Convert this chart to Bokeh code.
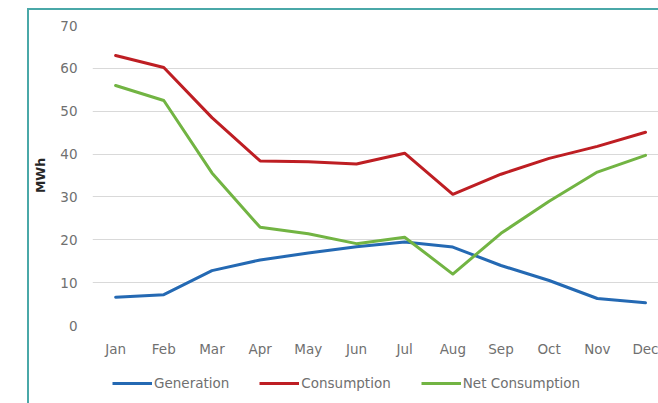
from bokeh.plotting import figure
from bokeh.models import Legend, LegendItem, FixedTicker, InlineStyleSheet
from bokeh.layouts import column
from bokeh.embed import file_html
from bokeh.resources import INLINE

months = ["Jan", "Feb", "Mar", "Apr", "May", "Jun", "Jul", "Aug", "Sep", "Oct", "Nov", "Dec"]
generation = [6.6, 7.2, 12.8, 15.3, 16.9, 18.4, 19.5, 18.3, 14.0, 10.5, 6.3, 5.3]
consumption = [63.0, 60.2, 48.5, 38.4, 38.2, 37.7, 40.2, 30.6, 35.3, 39.0, 41.8, 45.1]
net_consumption = [56.0, 52.5, 35.6, 22.9, 21.4, 19.1, 20.6, 12.0, 21.5, 29.0, 35.8, 39.7]
y_ticks = [0, 10, 20, 30, 40, 50, 60, 70]

xs = list(range(len(months)))
FONT = "DejaVu Sans"
TXT = "#707070"
FS = "13.5px"

p = figure(width=658, height=365, output_backend="svg", toolbar_location=None,
           x_range=(-0.48, 11.27), y_range=(0, 70),
           min_border_left=92, min_border_right=0, min_border_top=25, min_border_bottom=40)
p.outline_line_color = None
p.background_fill_color = "white"
p.border_fill_color = "white"

p.xgrid.visible = False
p.ygrid.grid_line_color = "#D9D9D9"
p.ygrid.grid_line_width = 1
p.ygrid.ticker = FixedTicker(ticks=y_ticks)

p.yaxis.ticker = FixedTicker(ticks=y_ticks)
p.yaxis.axis_line_color = None
p.yaxis.major_tick_line_color = None
p.yaxis.minor_tick_line_color = None
p.yaxis.major_label_standoff = 9
p.yaxis.major_label_text_font = FONT
p.yaxis.major_label_text_font_size = FS
p.yaxis.major_label_text_color = TXT
p.yaxis.axis_label = "MWh"
p.yaxis.axis_label_text_font = FONT
p.yaxis.axis_label_text_font_size = "12.5px"
p.yaxis.axis_label_text_font_style = "bold"
p.yaxis.axis_label_text_color = "#262626"
p.yaxis.axis_label_standoff = 9

p.xaxis.ticker = FixedTicker(ticks=xs)
p.xaxis.major_label_overrides = {i: m for i, m in enumerate(months)}
p.xaxis.axis_line_color = None
p.xaxis.major_tick_line_color = None
p.xaxis.minor_tick_line_color = None
p.xaxis.major_label_standoff = 9
p.xaxis.major_label_text_font = FONT
p.xaxis.major_label_text_font_size = FS
p.xaxis.major_label_text_color = TXT

colors = ["#2469B3", "#BE1E23", "#72B443"]
names = ["Generation", "Consumption", "Net Consumption"]
series = [generation, consumption, net_consumption]
for ys, c in zip(series, colors):
    p.line(xs, ys, line_color=c, line_width=3, line_join="round", line_cap="round")

# legend strip below the chart (its lines lie outside its own visible range)
p2 = figure(width=658, height=38, output_backend="svg", toolbar_location=None,
            x_range=(0, 1), y_range=(-2, -1),
            min_border_left=0, min_border_right=0, min_border_top=0, min_border_bottom=0)
p2.axis.visible = False
p2.grid.visible = False
p2.outline_line_color = None
p2.border_fill_color = "white"
items = []
for ys, c, n in zip(series, colors, names):
    r = p2.line(xs, ys, line_color=c, line_width=3)
    items.append(LegendItem(label=n, renderers=[r]))

lg = Legend(items=items, location=(20, 12),
            orientation="horizontal", padding=0, margin=0, spacing=30,
            glyph_width=40, glyph_height=16, label_height=16, label_standoff=2,
            border_line_color=None, background_fill_alpha=0,
            label_text_font=FONT, label_text_font_size=FS, label_text_color=TXT)
p2.add_layout(lg)

layout = column(p, p2, spacing=0)
layout.stylesheets = [InlineStyleSheet(css=""":host { position: relative; }
:host::after {
  content: ""; position: absolute; left: 27px; top: 8px; width: 700px; height: 500px;
  border-top: 2px solid #4AA8A8; border-left: 2px solid #4AA8A8;
  pointer-events: none; box-sizing: border-box; z-index: 10; }""")]

open("out.html", "w").write(file_html(layout, INLINE))
